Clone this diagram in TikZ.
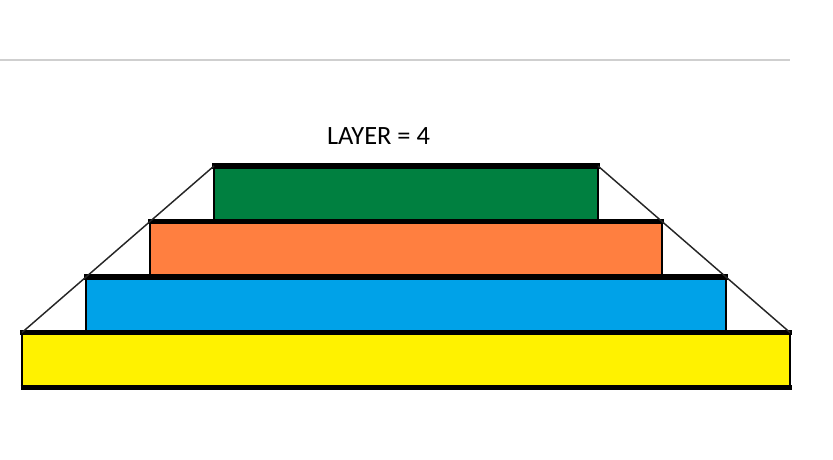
\documentclass[tikz,border=0pt]{standalone}
\usepackage{fontspec}
\setmainfont{Carlito}

\definecolor{layeryellow}{RGB}{255,242,0}
\definecolor{layerblue}{RGB}{0,162,232}
\definecolor{layerorange}{RGB}{255,127,64}
\definecolor{layergreen}{RGB}{0,128,64}

\begin{document}
\begin{tikzpicture}[x=0.75pt, y=-0.75pt, line cap=butt, line join=miter]
    \useasboundingbox (0,0) rectangle (833,460);

    % 区切り線
    \draw[black!19, line width=1.5pt] (0,60) -- (790,60);

    % 見出し
    \node[anchor=base, inner sep=0pt, font=\fontsize{19.8}{24}\selectfont] (title) at (378.5,145) {LAYER = 4};

    % 各層の塗り (下から)
    \foreach \i/\col in {0/layeryellow, 1/layerblue, 2/layerorange, 3/layergreen} {
        \pgfmathsetmacro{\xl}{22+64*\i}
        \pgfmathsetmacro{\xr}{790-64*\i}
        \pgfmathsetmacro{\yt}{332.5-55.5*\i}
        \coordinate (tl\i) at (\xl,\yt);
        \coordinate (tr\i) at (\xr,\yt);
        \fill[\col] (\xl,\yt) rectangle (\xr,\yt+55.5);
    }

    % 各層の枠線
    \foreach \i in {0,...,3} {
        \draw[line width=2.1pt] (tl\i) -- ++(0,55.5) (tr\i) -- ++(0,55.5);
        \draw[line width=4pt] ([xshift=-1.4pt]tl\i) -- ([xshift=1.4pt]tr\i);
    }

    % 底の線
    \draw[line width=4pt] (20.5,387.5) -- (791.5,387.5);

    % 斜めの線
    \draw[black!85, line width=1.1pt] (tl0) -- (tl3);
    \draw[black!85, line width=1.1pt] (tr3) -- (tr0);
\end{tikzpicture}
\end{document}
